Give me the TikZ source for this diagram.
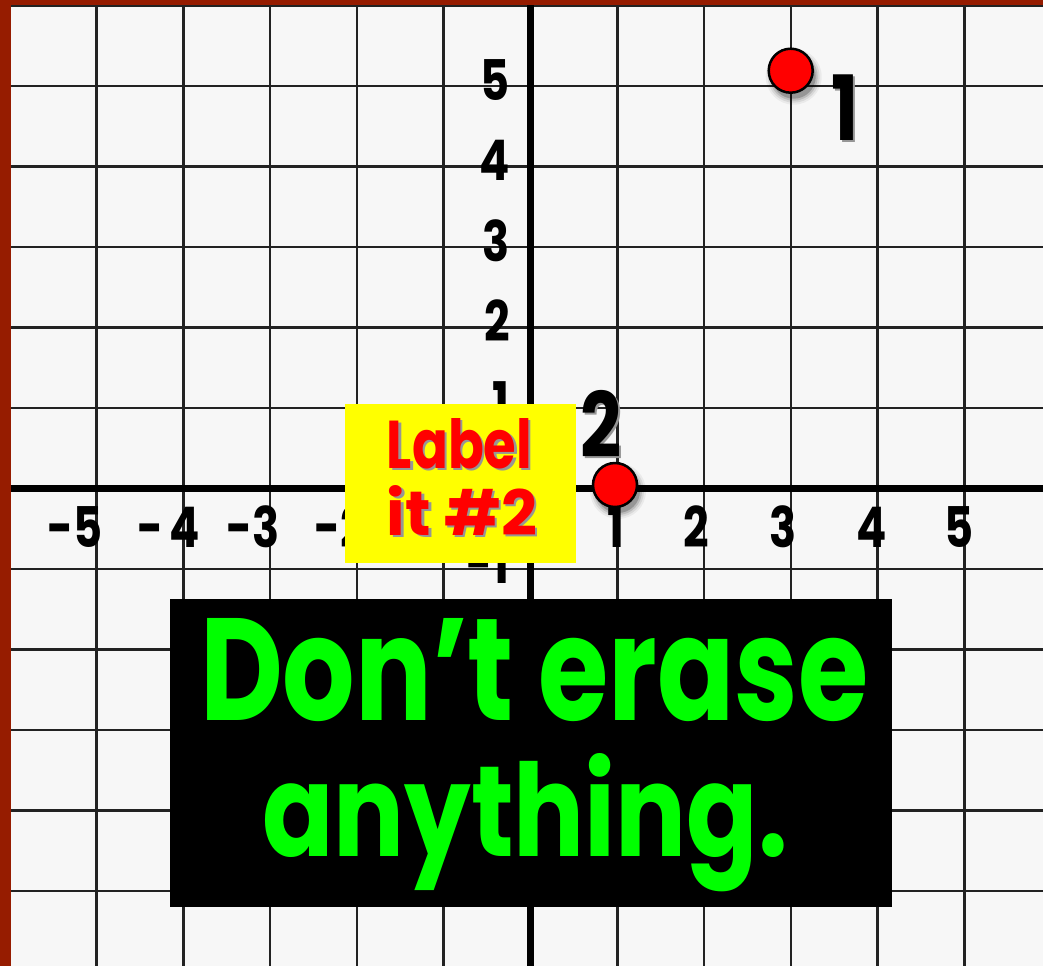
\documentclass[tikz,border=0pt]{standalone}
\usepackage{fontspec}
\setmainfont{Poppins}
\usepackage{graphicx}
\definecolor{bg}{RGB}{247,247,247}
\definecolor{framec}{RGB}{150,28,0}
\definecolor{gridc}{RGB}{34,34,34}
\definecolor{ptred}{RGB}{255,0,0}
\definecolor{lime}{RGB}{0,255,0}
\definecolor{ylw}{RGB}{255,255,0}
\definecolor{shadowc}{RGB}{150,150,150}
\newcommand\narrow[1]{\scalebox{0.8}[1]{#1}}
\newcommand\shadowed[2]{\makebox[0pt][l]{\kern2.5pt\raisebox{-2.5pt}{\textcolor{shadowc}{#2}}}\textcolor{#1}{#2}}
\begin{document}
\begin{tikzpicture}[x=1pt,y=-1pt,
  gridline/.style={draw=gridc, line width=2.6pt},
  axisline/.style={draw=black, line width=7.5pt},
  axlab/.style={inner sep=0pt, font=\fontsize{56}{56}\selectfont\bfseries},
  ptlab/.style={inner sep=0pt, font=\fontsize{90}{90}\selectfont\bfseries},
  ptdot/.style={circle, fill=ptred, draw=black, line width=2.5pt, minimum size=44pt, inner sep=0pt},
  panel/.style={inner sep=0pt, outer sep=0pt},
  txt/.style={inner sep=0pt, outer sep=0pt},
]
\useasboundingbox (0,0) rectangle (1043,966);
\fill[bg] (0,0) rectangle (1043,966);
% grid
\foreach \k in {-6,...,5} \draw[gridline] ({530.5+86.8*\k},0) -- ({530.5+86.8*\k},966);
\foreach \k in {-6,...,5} \draw[gridline] (0,{488.3+80.5*\k}) -- (1043,{488.3+80.5*\k});
% axes
\draw[axisline] (530.5,0) -- (530.5,966);
\draw[axisline] (0,488.3) -- (1043,488.3);
% frame
\fill[framec] (0,0) rectangle (1043,5);
\fill[framec] (0,0) rectangle (11,966);
% y labels
\node[axlab, anchor=base east] (y5) at (510,100.3) {\narrow{5}};
\node[axlab, anchor=base east] (y4) at (510,180.8) {\narrow{4}};
\node[axlab, anchor=base east] (y3) at (510,261.3) {\narrow{3}};
\node[axlab, anchor=base east] (y2) at (510,341.8) {\narrow{2}};
\node[axlab, anchor=base east] (y1) at (510,422.3) {\narrow{1}};
\node[axlab, anchor=base east] (ym1) at (510,583.3) {\narrow{-1}};
% x labels
\node[axlab, anchor=base east] (xm5) at (103,547) {\narrow{-5}};
\node[axlab, anchor=base east] (xm4) at (200,547) {\narrow{-\kern8pt4}};
\node[axlab, anchor=base east] (xm3) at (280,547) {\narrow{-3}};
\node[axlab, anchor=base east] (xm2) at (366,547) {\narrow{-2}};
\node[axlab, anchor=base] (x1) at (616,547) {\narrow{1}};
\node[axlab, anchor=base] (x2) at (696,547) {\narrow{2}};
\node[axlab, anchor=base] (x3) at (783,547) {\narrow{3}};
\node[axlab, anchor=base] (x4) at (872,547) {\narrow{4}};
\node[axlab, anchor=base] (x5) at (959,547) {\narrow{5}};
% point shadows
\foreach \cx/\cy in {790.7/70.7, 615/485} {
  \foreach \r/\o in {28/0.05, 26/0.08, 24/0.12, 22/0.2} \fill[black, opacity=\o] ({\cx+3},{\cy+6}) circle (\r);
}
% points
\node[ptdot] (p1) at (790.7,70.7) {};
\node[ptdot] (p2) at (615,485) {};
% point labels
\node[ptlab, anchor=base] (l1) at (845,140) {\shadowed{black}{\narrow{1}}};
\node[ptlab, anchor=base] (l2) at (601,457) {\shadowed{black}{\narrow{2}}};
% yellow note
\node[panel, fill=ylw, minimum width=231pt, minimum height=159pt] (note) at (460.5,483.5) {};
\node[txt, anchor=base] (n1) at (459.5,468) {\shadowed{ptred}{\resizebox{145pt}{50pt}{\bfseries Label}}};
\node[txt, anchor=base] (n2) at (462,535) {\shadowed{ptred}{\resizebox{150pt}{50pt}{\bfseries it \#2}}};
% black banner
\node[panel, fill=black, minimum width=721.7pt, minimum height=308pt] (banner) at (530.85,753) {};
\node[txt, anchor=base west, text=lime] (b1) at (200,720) {\resizebox{668pt}{102pt}{\bfseries Don't erase}};
\node[txt, anchor=base west, text=lime] (b2) at (262,856) {\resizebox{526pt}{103pt}{\bfseries anything.}};
\end{tikzpicture}
\end{document}
